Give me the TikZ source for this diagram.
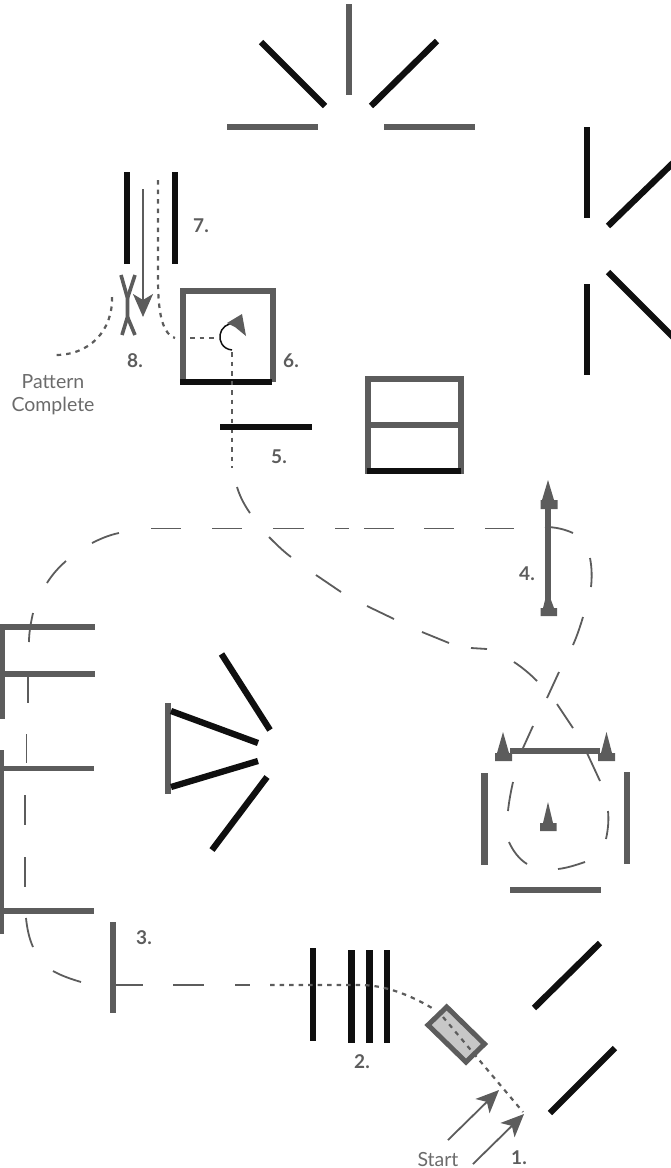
\documentclass[tikz,border=0pt]{standalone}
\usepackage{fontspec}
\setmainfont{Lato}
\usetikzlibrary{arrows.meta}
\definecolor{wallgray}{gray}{0.36}
\definecolor{inkblack}{gray}{0.06}
\definecolor{textgray}{gray}{0.42}
\definecolor{labelgray}{gray}{0.36}
\definecolor{boxfill}{gray}{0.78}
\tikzset{
  graywall/.style={draw=wallgray,line width=6.3pt},
  blackwall/.style={draw=inkblack,line width=6.3pt},
  thinblack/.style={draw=inkblack,line width=5.5pt},
  longdash/.style={draw=wallgray,line width=1.8pt},
  dotpath/.style={draw=wallgray,line width=2.2pt,dash pattern=on 4.5pt off 5pt},
  marker/.style={fill=wallgray,draw=none},
  ptr/.style={draw=wallgray,line width=1.8pt,-{Stealth[length=23pt,width=20pt,inset=6pt]}},
  numlabel/.style={font=\bfseries\fontsize{19}{19}\selectfont,text=labelgray,inner sep=0pt},
  caption/.style={font=\fontsize{19.5}{23}\selectfont,text=textgray,inner sep=0pt,align=center}
}
\begin{document}
\begin{tikzpicture}[x=1pt,y=-1pt]
\useasboundingbox (0,0) rectangle (671,1168);
% top fan
\draw[graywall] (227,127)--(318,127);
\draw[graywall] (384,127)--(475,127);
\draw[graywall] (349,4)--(349,95);
\draw[blackwall] (261,42)--(325,106);
\draw[blackwall] (437,41)--(371,106);
% right group
\draw[thinblack] (587,127)--(587,218);
\draw[thinblack] (587,284)--(587,375);
\draw[blackwall] (608,226)--(674,162);
\draw[blackwall] (608,272)--(674,338);
% 7
\draw[blackwall,line width=6.5pt] (127,172)--(127,264);
\draw[blackwall,line width=6.5pt] (175,172)--(175,264);
\draw[ptr] (143,189)--(143,317);
\draw[dotpath] (158,180)--(158,277) .. controls (158,305) and (160,333) .. (175,338);
\draw[dotpath] (190,338)--(214,338);
% 8
\draw[draw=wallgray,line width=3.6pt] (121,275)--(127.5,298)--(127.5,317)--(122,335);
\draw[draw=wallgray,line width=3.6pt] (135,275)--(127.5,298);
\draw[draw=wallgray,line width=3.6pt] (127.5,317)--(135,335);
\draw[dotpath] (112,297) .. controls (113,330) and (90,356) .. (53,355);
% 6
\draw[graywall] (183,382)--(183,291)--(273,291)--(273,382);
\draw[blackwall] (180,382)--(272,382);
\draw[draw=inkblack,line width=1.5pt] (232,350) .. controls (222,349) and (219,340) .. (220,335) .. controls (221,328) and (227,323) .. (235,323);
\fill[marker] (242,314)--(246,336)--(235,327)--(227,323)--cycle;
\draw[dotpath] (232,352)--(232,468);
% 5
\draw[blackwall] (220,427)--(312,427);
% stacked box
\draw[graywall] (368,379) rectangle (461,471);
\draw[graywall] (368,425)--(461,425);
\draw[blackwall] (367,471)--(461,471);
% 4 arrow
\draw[draw=wallgray,line width=6.5pt] (548,500)--(548,610);
\fill[marker] (548,480)--(554,500)--(557.5,500)--(557.5,509)--(540.5,509)--(540.5,500)--(542,500)--cycle;
\fill[marker] (540.5,616)--(540.5,608)--(543,608)--(545,600)--(551,600)--(554,608)--(557,608)--(557,616)--cycle;
% gate
\draw[draw=wallgray,line width=6pt] (510,751)--(600,751);
\fill[marker] (503,732)--(509,753)--(512,753)--(512,761)--(495,761)--(495,753)--(497,753)--cycle;
\fill[marker] (606.5,732)--(612,753)--(615,753)--(615,761)--(598,761)--(598,753)--(601,753)--cycle;
\draw[graywall,line width=6.5pt] (484.5,773)--(484.5,865);
\draw[graywall,line width=6.5pt] (627,772)--(627,864);
\draw[graywall,line width=6.5pt] (510,890)--(601,890);
\fill[marker] (548,802)--(553,823)--(556.5,823)--(556.5,831)--(540,831)--(540,823)--(543,823)--cycle;
% left group
\draw[graywall] (2,624)--(2,719);
\draw[graywall] (0,627)--(95,627);
\draw[graywall] (0,674)--(95,674);
\draw[graywall] (1,750)--(1,934);
\draw[graywall,line width=5pt] (0,768)--(94,768);
\draw[graywall] (0,911)--(94,911);
% centre fan
\draw[graywall,line width=5.5pt] (168,703)--(168,794);
\draw[blackwall] (171,711)--(258,743);
\draw[blackwall] (171,787)--(258,761);
\draw[blackwall] (221.5,654)--(270,730);
\draw[blackwall] (267,777)--(212,850);
% 3
\draw[graywall,line width=5.5pt] (113,922)--(113,1013);
% long dashes, first loop
\foreach \a/\b in {
  115/143,173/204,235/250}
  \draw[longdash] (\a,985)--(\b,985);
\draw[longdash] (81,982) .. controls (71,979) and (62,976) .. (53,971);
\draw[longdash] (33,947) .. controls (29,938) and (27,928) .. (26,918);
\foreach \a/\b/\x in {857/887/25,795/825/25,734/763/26.5,677/703/28}
  \draw[longdash] (\x,\a)--(\x,\b);
\draw[longdash] (29,642) .. controls (29,632) and (31,622) .. (33,613);
\draw[longdash] (47,583) .. controls (52,575) and (58,568) .. (66,561);
\draw[longdash] (92,543) .. controls (100,539) and (109,535) .. (119,533);
\foreach \a/\b in {151/181,212/242,273/304,335/349,364/394,424/454,485/514}
  \draw[longdash] (\a,528.5)--(\b,528.5);
\draw[longdash] (545,527) .. controls (555,527) and (564,529) .. (573,533);
\draw[longdash] (590,558) .. controls (592,568) and (592,578) .. (591,587);
\draw[longdash] (583,617) .. controls (580,627) and (577,636) .. (573,645);
\draw[longdash] (559,672)--(547,698);
\draw[longdash] (533,726)--(523,748);
% long dashes, second path
\draw[longdash] (237,487) .. controls (240,497) and (245,506) .. (250,513);
\draw[longdash] (269,537) .. controls (276,544) and (283,551) .. (291,557);
\draw[longdash] (316,575)--(341,592);
\draw[longdash] (367,606)--(394,619);
\draw[longdash] (422,632)--(449,643);
\draw[longdash] (471,648)--(487,649);
\draw[longdash] (514,662) .. controls (523,668) and (530,674) .. (537,681);
\draw[longdash] (557,704)--(573,728);
\draw[longdash] (587,753)--(600,781);
\draw[longdash] (608,811) .. controls (609,820) and (608,830) .. (606,839);
\draw[longdash] (585,862) .. controls (576,865) and (567,868) .. (558,869);
\draw[longdash] (527,864) .. controls (519,859) and (513,851) .. (509,842);
\draw[longdash] (508,811) .. controls (509,801) and (511,791) .. (513,782);
% 2
\draw[blackwall,line width=6.5pt] (313,948)--(313,1041);
\draw[blackwall,line width=6.5pt] (351.7,950)--(351.7,1043);
\draw[blackwall,line width=6.5pt] (369.5,950)--(369.5,1043);
\draw[blackwall,line width=6.5pt] (387,950)--(387,1043);
% tilted box and dotted path
\draw[draw=wallgray,fill=boxfill,line width=5pt] (446.7,1007)--(484.5,1044)--(466,1062)--(428,1025)--cycle;
\draw[dotpath] (270,985)--(360,985) .. controls (385,985) and (410,995) .. (432,1008);
\draw[dotpath] (443,1017)--(523,1112);
% right diagonals
\draw[blackwall] (600,943)--(534,1008);
\draw[blackwall] (615,1048)--(550,1113);
% start arrows
\draw[ptr] (448,1140)--(499,1090);
\draw[ptr] (473,1164)--(524,1114);
% labels
\node[numlabel] (n1) at (519,1158) {1.};
\node[numlabel] (n2) at (362,1062) {2.};
\node[numlabel] (n3) at (144,938) {3.};
\node[numlabel] (n4) at (527,574) {4.};
\node[numlabel] (n5) at (279,457) {5.};
\node[numlabel] (n6) at (291,361) {6.};
\node[numlabel] (n7) at (201,226) {7.};
\node[numlabel] (n8) at (135,361) {8.};
\node[caption] (done) at (53,395) {Pattern\\Complete};
\node[caption] (start) at (438,1159) {Start};
\end{tikzpicture}
\end{document}
